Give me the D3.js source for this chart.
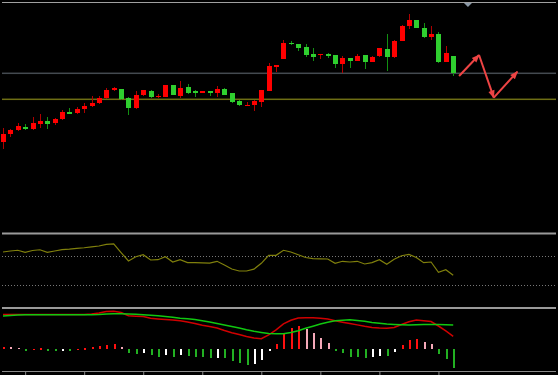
<!DOCTYPE html>
<html>
<head>
<meta charset="utf-8">
<script src="https://cdn.jsdelivr.net/npm/d3@7"></script>
<style>
  body { margin: 0; background: #000; overflow: hidden; }
  svg { display: block; }
</style>
</head>
<body>
<div id="chart"></div>
<script>
// price data (one candle per session)
const open  = [5.80,6.60,7.00,7.30,7.10,7.65,7.95,7.67,8.10,8.80,8.70,9.10,9.40,9.70,10.20,10.97,11.10,10.17,9.17,10.50,10.93,10.27,10.35,11.50,10.40,11.27,10.90,10.73,10.90,10.70,11.10,10.67,9.93,9.43,9.47,9.83,10.93,13.30,14.10,15.73,15.63,15.27,14.60,14.53,14.60,14.47,13.63,14.17,13.90,14.50,13.83,14.37,15.13,14.30,15.90,17.40,18.00,17.25,16.33,16.57,13.83,14.40];
const close = [6.60,7.00,7.40,7.10,7.70,7.95,7.60,8.13,8.80,8.65,9.13,9.43,9.73,10.23,11.00,11.17,10.10,9.20,10.50,11.00,10.27,10.40,11.50,10.55,11.25,10.67,10.73,10.90,10.73,11.10,10.53,9.80,9.47,9.53,9.87,11.00,13.40,13.50,15.73,15.57,15.20,14.53,14.30,14.63,14.40,13.57,14.17,13.90,14.43,13.80,14.33,15.17,14.33,15.93,17.40,18.00,17.20,16.33,16.60,13.83,14.67,12.67];
const high  = [7.20,7.10,7.70,7.60,8.30,8.60,8.30,8.20,9.05,9.25,9.33,9.73,10.37,10.43,11.17,11.27,11.15,10.27,10.90,11.05,11.00,10.60,11.55,11.55,11.87,11.57,11.00,10.95,10.95,11.43,11.23,10.70,10.03,9.83,10.00,11.00,13.73,13.55,16.00,15.90,15.65,15.63,15.20,14.63,14.73,14.50,14.40,14.20,14.63,14.55,14.40,15.20,16.60,16.00,17.47,18.60,18.05,17.67,17.45,16.80,15.37,14.45];
const low   = [5.10,6.30,6.90,7.00,7.00,7.20,7.10,7.50,8.05,8.60,8.65,8.75,9.35,9.65,10.07,10.87,10.05,8.55,9.15,10.45,10.25,10.25,10.33,10.50,10.17,10.65,10.33,10.70,10.43,10.30,10.50,9.75,9.45,9.40,8.87,9.27,10.93,12.83,14.10,15.47,14.93,14.33,13.93,14.10,14.17,13.23,12.73,13.17,13.90,13.10,13.80,14.30,12.93,14.17,15.87,17.07,17.17,16.17,16.05,13.73,13.83,12.37];

// oscillator (RSI-like)
const rsi = [75.5,76.9,77.9,75.1,77.6,78.6,75.1,76.9,78.7,79.4,80.6,81.4,82.7,83.8,86.1,86.6,74.8,63.1,69.0,71.8,64.5,64.9,69.0,61.7,64.9,60.8,60.8,60.6,60.3,62.7,57.6,52.1,49.3,49.3,51.8,59.9,71.0,71.0,77.9,75.5,71.8,67.9,66.3,66.1,65.9,59.9,62.7,61.7,62.7,59.0,60.8,64.9,58.6,65.4,70.4,72.3,67.9,60.8,61.7,47.5,51.1,43.4];
const rsiLevels = [70, 30];

// MACD
const dif = [0.86,0.86,0.86,0.86,0.86,0.86,0.86,0.86,0.86,0.86,0.86,0.863,0.875,0.90,0.938,0.943,0.913,0.83,0.818,0.81,0.768,0.75,0.735,0.723,0.705,0.675,0.638,0.593,0.563,0.525,0.463,0.408,0.363,0.313,0.275,0.258,0.355,0.478,0.63,0.718,0.775,0.783,0.783,0.77,0.748,0.705,0.668,0.635,0.603,0.568,0.538,0.525,0.518,0.538,0.613,0.683,0.725,0.705,0.685,0.575,0.455,0.318];
const dea = [0.825,0.838,0.85,0.858,0.858,0.858,0.858,0.858,0.858,0.858,0.858,0.858,0.858,0.863,0.873,0.883,0.88,0.875,0.868,0.858,0.845,0.83,0.813,0.793,0.768,0.758,0.738,0.708,0.675,0.638,0.60,0.563,0.523,0.48,0.445,0.415,0.385,0.383,0.383,0.413,0.458,0.518,0.57,0.625,0.668,0.705,0.72,0.73,0.713,0.693,0.663,0.643,0.625,0.613,0.605,0.60,0.605,0.61,0.613,0.613,0.605,0.60];
const macdHist = [0.05,0.04,0.03,-0.02,0.01,0.02,-0.01,-0.02,-0.01,-0.02,0.01,0.02,0.04,0.075,0.108,0.133,0.05,-0.10,-0.113,-0.105,-0.158,-0.20,-0.158,-0.193,-0.158,-0.175,-0.193,-0.208,-0.218,-0.213,-0.233,-0.30,-0.358,-0.393,-0.375,-0.275,-0.058,0.118,0.368,0.533,0.575,0.50,0.393,0.283,0.15,-0.018,-0.108,-0.193,-0.208,-0.233,-0.208,-0.168,-0.17,-0.075,0.093,0.225,0.243,0.175,0.118,-0.125,-0.243,-0.475];

// drawn objects
const priceLevels = [12.67, 10.07];
const arrowIdx   = [61.8, 64.5, 66.5, 69.7];
const arrowPrice = [12.4, 14.5, 10.23, 12.83];
const cursorIdx = 63;
const xTicks = [3, 11, 19, 27, 35, 43, 51, 59];

const W = 558, H = 375;
const left = 2, right = 556;

const svg = d3.select("#chart").append("svg")
    .attr("width", W)
    .attr("height", H)
    .style("background", "#000");

const x = d3.scaleLinear().domain([0, open.length - 1]).range([3, 453.2]);
const yPrice = d3.scaleLinear().domain([5, 20]).range([150, 0]);
const yRsi = d3.scaleLinear().domain([0, 100]).range([306.75, 234.25]);
const yMacd = d3.scaleLinear().domain([0, 1]).range([349, 309]);

// frame lines
svg.append("rect").attr("x", left).attr("y", 2).attr("width", right - left).attr("height", 1).attr("fill", "#a0a0a0");
[232.5, 307].forEach(y => {
  svg.append("rect").attr("x", left).attr("y", y).attr("width", right - left).attr("height", 2).attr("fill", "#9a9a9a");
});

// support / resistance lines
const levelColors = ["#444a50", "#6e6e14"];
svg.selectAll(".level").data(priceLevels).enter().append("rect")
    .attr("class", "level")
    .attr("x", left).attr("width", right - left)
    .attr("y", d => yPrice(d) - 0.75).attr("height", 1.5)
    .attr("fill", (d, i) => levelColors[i]);

// candles
const candles = svg.append("g").attr("shape-rendering", "crispEdges");
const idx = d3.range(open.length);
const up = i => close[i] >= open[i];

candles.selectAll(".wick").data(idx).enter().append("line")
    .attr("class", "wick")
    .attr("x1", i => Math.round(x(i)) + 0.5).attr("x2", i => Math.round(x(i)) + 0.5)
    .attr("y1", i => yPrice(high[i])).attr("y2", i => yPrice(low[i]))
    .attr("stroke", i => up(i) ? "#b00000" : "#129012")
    .attr("stroke-width", 1);

candles.selectAll(".body").data(idx).enter().append("rect")
    .attr("class", "body")
    .attr("x", i => Math.round(x(i)) - 2)
    .attr("width", 5)
    .attr("y", i => yPrice(Math.max(open[i], close[i])))
    .attr("height", i => Math.max(1, Math.abs(yPrice(open[i]) - yPrice(close[i]))))
    .attr("fill", i => up(i) ? "#ff0000" : "#2fcf2f");

// arrows
const defs = svg.append("defs");
defs.append("marker")
    .attr("id", "head")
    .attr("viewBox", "0 0 10 10")
    .attr("refX", 9).attr("refY", 5)
    .attr("markerWidth", 4.5).attr("markerHeight", 4)
    .attr("orient", "auto")
  .append("path")
    .attr("d", "M0,1 L10,5 L0,9 z")
    .attr("fill", "#ee4444");

d3.range(arrowIdx.length - 1).forEach(i => {
  svg.append("line")
      .attr("x1", x(arrowIdx[i])).attr("y1", yPrice(arrowPrice[i]))
      .attr("x2", x(arrowIdx[i + 1])).attr("y2", yPrice(arrowPrice[i + 1]))
      .attr("stroke", "#ee4444")
      .attr("stroke-width", 2)
      .attr("marker-end", "url(#head)");
});

// cursor marker at top
const cx = x(cursorIdx);
svg.append("path")
    .attr("d", `M${cx - 4},3 L${cx + 4},3 L${cx},7 z`)
    .attr("fill", "#8a98a6");

// oscillator panel
svg.selectAll(".rsiLevel").data(rsiLevels).enter().append("line")
    .attr("class", "rsiLevel")
    .attr("x1", left).attr("x2", right)
    .attr("y1", d => Math.round(yRsi(d)) + 0.5).attr("y2", d => Math.round(yRsi(d)) + 0.5)
    .attr("stroke", "#777")
    .attr("stroke-dasharray", "1,2");

svg.append("path")
    .datum(rsi)
    .attr("fill", "none")
    .attr("stroke", "#80800c")
    .attr("stroke-width", 1.2)
    .attr("d", d3.line().x((d, i) => x(i)).y(d => yRsi(d)));

// MACD panel
const histColor = (v, i) => {
  const prev = i > 0 ? macdHist[i - 1] : v;
  if (v >= 0) return v >= prev ? "#ff1010" : "#f4a8b8";
  return v <= prev ? "#22b022" : "#ffffff";
};

svg.append("g").attr("shape-rendering", "crispEdges")
  .selectAll("rect").data(macdHist).enter().append("rect")
    .attr("x", (d, i) => Math.round(x(i)) - 0.5)
    .attr("width", 2)
    .attr("y", d => d >= 0 ? yMacd(d) : yMacd(0))
    .attr("height", d => Math.max(1.5, Math.abs(yMacd(d) - yMacd(0))))
    .attr("fill", histColor);

svg.append("path")
    .datum(dif)
    .attr("fill", "none")
    .attr("stroke", "#d00000")
    .attr("stroke-width", 1.5)
    .attr("d", d3.line().x((d, i) => x(i)).y(d => yMacd(d)));

svg.append("path")
    .datum(dea)
    .attr("fill", "none")
    .attr("stroke", "#10c810")
    .attr("stroke-width", 1.5)
    .attr("d", d3.line().x((d, i) => x(i)).y(d => yMacd(d)));

// bottom axis
const axisG = svg.append("g")
    .attr("transform", "translate(0,371.5)")
    .call(d3.axisBottom(x).tickValues(xTicks).tickFormat("").tickSizeInner(4).tickSizeOuter(0));
axisG.select(".domain").remove();
axisG.selectAll("line").attr("stroke", "#8a8a8a");
axisG.append("line")
    .attr("x1", left).attr("x2", right)
    .attr("y1", 0).attr("y2", 0)
    .attr("stroke", "#8a8a8a");
</script>
</body>
</html>
